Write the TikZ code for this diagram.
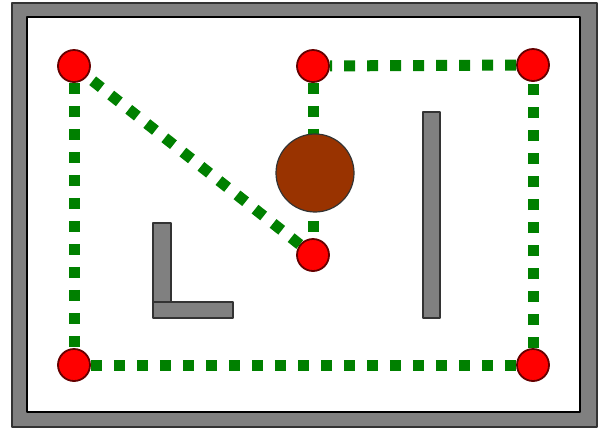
\documentclass[tikz,border=0pt]{standalone}
\definecolor{wallgray}{HTML}{808080}
\definecolor{obstbrown}{HTML}{993300}
\definecolor{routegreen}{HTML}{008000}
\tikzset{
	waypoint/.style={circle, draw=black!60!red, fill=red, line width=0.9pt, minimum size=16pt, inner sep=0pt},
	route/.style={draw=routegreen, line width=5.5pt, dash pattern=on 5.5pt off 6pt},
	wall/.style={draw=black!80, fill=wallgray, line width=0.9pt},
}
\begin{document}
\begin{tikzpicture}[x=0.5pt, y=-0.5pt, line join=round]
			\useasboundingbox (0,0) rectangle (605,430);
			% frame
			\draw[wall] (12,3) rectangle (597,427);
			\draw[fill=white, line width=1pt] (27,17) rectangle (580,412);
			% walls
			\draw[wall] (153,223) rectangle (171,303);
			\draw[wall] (153,302) rectangle (233,318);
			\draw[wall] (423,112) rectangle (440,318);
			% waypoints
			\node[waypoint] (a) at (74,66) {};
			\node[waypoint] (b) at (313,66) {};
			\node[waypoint] (c) at (533,65) {};
			\node[waypoint] (d) at (313,255) {};
			\node[waypoint] (e) at (74,365) {};
			\node[waypoint] (f) at (533,365) {};
			% route
			\draw[route] (a)--(e);
			\draw[route] (e)--(f);
			\draw[route] (f)--(c);
			\draw[route] (c)--(b);
			\draw[route] (b)--(d);
			\draw[route] (d)--(a);
			% obstacle
			\node[circle, draw=black!80, fill=obstbrown, line width=0.6pt, minimum size=39pt, inner sep=0pt] (obst) at (315,173) {};
		\end{tikzpicture}
\end{document}
